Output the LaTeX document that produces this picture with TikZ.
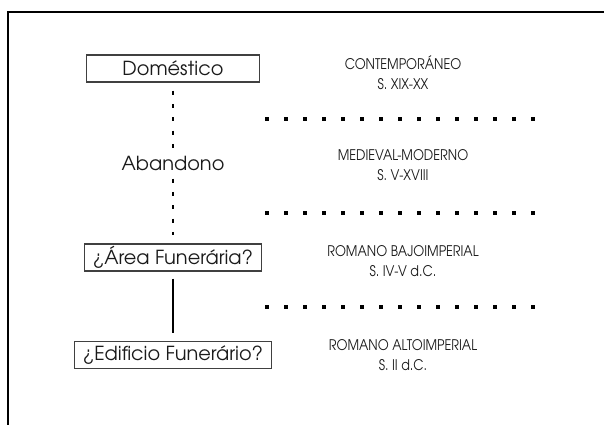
\documentclass[tikz,border=0pt]{standalone}
\usepackage{fontspec}
\setmainfont{TeX Gyre Adventor}
\newfontfamily\estrecha[FakeStretch=0.86]{TeX Gyre Adventor}
\usetikzlibrary{positioning}
\definecolor{trazo}{HTML}{1A1A1A}
\tikzset{
  fase/.style={draw=black!75,line width=0.8pt,minimum width=129.75pt,minimum height=20.25pt,inner sep=0pt,inner xsep=6pt,text=trazo,font=\fontsize{14.5}{15}\selectfont},
  abandono/.style={inner sep=0pt,text=trazo,font=\fontsize{14.5}{15}\selectfont},
  periodo/.style={align=center,text=trazo,font=\estrecha\fontsize{11}{15}\selectfont},
  corte/.style={line width=3pt,dash pattern=on 3pt off 11.25pt},
  enlace/.style={line width=1.6pt,dash pattern=on 3pt off 7pt}
}
\begin{document}
\begin{tikzpicture}[x=0.75pt,y=-0.75pt]
\useasboundingbox (0,0) rectangle (604,425);
% marco
\draw[line width=1.9pt] (8,430)--(8,12)--(610,12);
% secuencia de usos
\node[fase] (dom) at (173,68.5) {Doméstico};
\node[abandono] (aban) at (173,163) {Abandono};
\node[fase] (area) at (173,257.5) {¿Área Funerária?};
\node[fase] (edif) at (173,355) {¿Edificio Funerário?};
\draw[enlace,shorten <=6pt,shorten >=3.4pt] (dom)--(aban);
\draw[enlace,shorten <=6pt,shorten >=6.5pt] (aban)--(area);
\draw[line width=1.6pt,shorten <=5.25pt,shorten >=6pt] (area)--(edif);
% periodos
\path
(265,119) coordinate (c1) (547,119) coordinate (c1e)
(265,213) coordinate (c2) (547,213) coordinate (c2e)
(265,307) coordinate (c3) (547,307) coordinate (c3e);
\foreach \c in {c1,c2,c3} \draw[corte] (\c)--(\c e);
\node[periodo] (contemp) at (403,73) {CONTEMPORÁNEO\\S. XIX-XX};
\node[periodo] (medieval) at (403,165) {MEDIEVAL-MODERNO\\S. V-XVIII};
\node[periodo] (bajo) at (403,261) {ROMANO BAJOIMPERIAL\\S. IV-V d.C.};
\node[periodo] (alto) at (403,355) {ROMANO ALTOIMPERIAL\\S. II d.C.};
\end{tikzpicture}
\end{document}
